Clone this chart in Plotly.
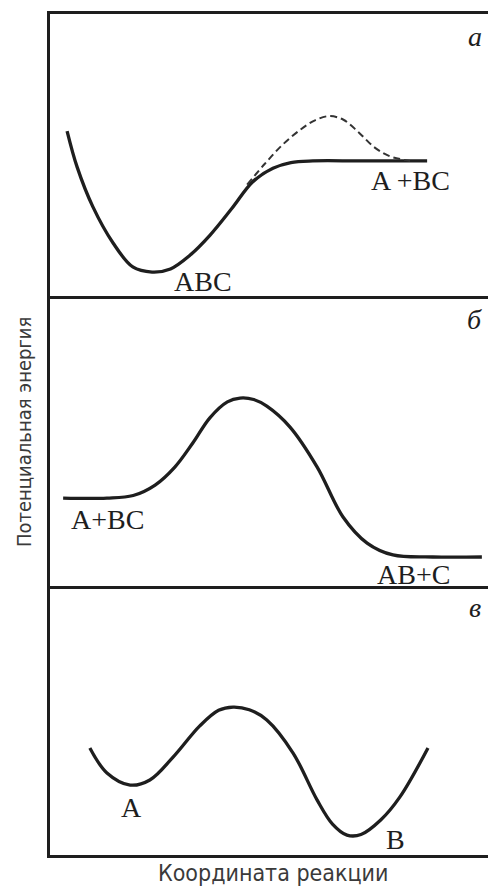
import plotly.graph_objects as go

# Panel a: bound ABC molecule dissociating into A + BC
a_x = [3.9, 6.2, 9.8, 14.4, 18.9, 23.3, 27.5, 32.0, 36.5, 41.5, 46.3, 50.9, 55.0, 60.0, 70.8, 86.1]
a_y = [58.5, 45.7, 31.6, 18.8, 10.3, 8.5, 9.6, 14.5, 21.5, 31.0, 40.5, 45.3, 47.3, 47.9, 47.9, 47.9]
a_dash_x = [45.0, 49.0, 53.0, 57.1, 60.5, 63.8, 67.0, 70.5, 74.0, 77.5, 82.2]
a_dash_y = [39.5, 46.8, 53.5, 58.9, 62.3, 63.8, 62.5, 58.0, 52.8, 49.6, 47.9]

# Panel б: A + BC -> AB + C over a barrier
b_x = [3.0, 13.0, 19.0, 24.0, 28.5, 32.6, 36.5, 40.5, 43.4, 46.5, 49.5, 54.8, 61.0, 66.9, 72.4, 78.3, 87.4, 98.6]
b_y = [30.3, 30.3, 31.2, 34.8, 41.0, 49.3, 58.0, 63.5, 64.8, 64.3, 62.0, 54.8, 41.0, 23.8, 14.8, 10.7, 10.0, 10.0]

# Panel в: two minima A and B
c_x = [9.1, 13.0, 18.3, 22.8, 28.1, 34.2, 38.5, 41.8, 45.5, 49.5, 55.5, 61.0, 64.5, 67.8, 71.0, 75.5, 79.9, 86.3]
c_y = [39.8, 30.5, 26.0, 27.9, 36.4, 48.0, 53.8, 55.0, 54.0, 50.2, 37.9, 20.4, 11.5, 7.4, 7.6, 13.0, 21.6, 39.8]

panel_letters = ["a", "б", "в"]
state_labels = [
    ("A +BC", 82.2, 41.1, 1), ("ABC", 34.9, 5.0, 1),
    ("A+BC", 13.2, 22.8, 2), ("AB+C", 82.9, 3.8, 2),
    ("A", 18.7, 17.5, 3), ("B", 78.8, 5.6, 3),
]
x_title = "Координата реакции"
y_title = "Потенциальная энергия"

INK = "#1e1e1e"
fig = go.Figure()
line = dict(color=INK, width=3.3, shape="spline", smoothing=1.0)
fig.add_trace(go.Scatter(x=a_x, y=a_y, mode="lines", line=line, xaxis="x", yaxis="y"))
fig.add_trace(go.Scatter(x=a_dash_x, y=a_dash_y, mode="lines",
                         line=dict(color="#333", width=2, dash="7px,4px", shape="spline", smoothing=1.0),
                         xaxis="x", yaxis="y"))
fig.add_trace(go.Scatter(x=b_x, y=b_y, mode="lines", line=line, xaxis="x2", yaxis="y2"))
fig.add_trace(go.Scatter(x=c_x, y=c_y, mode="lines", line=line, xaxis="x3", yaxis="y3"))

H = 890.0
doms = [(1 - 296 / H, 1 - 14 / H), (1 - 586 / H, 1 - 296 / H), (1 - 855 / H, 1 - 586 / H)]
xd = [50 / 488.0, 1.0]
ax_common = dict(range=[0, 100], showgrid=False, zeroline=False, showticklabels=False,
                 ticks="", showline=True, linecolor=INK, linewidth=2.5, fixedrange=True)
layout = dict(width=488, height=890, margin=dict(l=0, r=0, t=0, b=0),
              paper_bgcolor="white", plot_bgcolor="white", showlegend=False)
for i, (d0, d1) in enumerate(doms):
    sfx = "" if i == 0 else str(i + 1)
    layout["xaxis" + sfx] = dict(ax_common, domain=xd, anchor="y" + sfx, mirror=(i == 0))
    layout["yaxis" + sfx] = dict(ax_common, domain=[d0, d1], anchor="x" + sfx, mirror=False)
fig.update_layout(**layout)

serif = "Liberation Serif"
for txt, x, y, p in state_labels:
    sfx = "" if p == 1 else str(p)
    fig.add_annotation(x=x, y=y, xref="x" + sfx, yref="y" + sfx, text=txt, showarrow=False,
                       xanchor="center", yanchor="middle",
                       font=dict(family=serif, size=28, color=INK))
for i, letter in enumerate(panel_letters):
    sfx = "" if i == 0 else str(i + 1)
    fig.add_annotation(x=97.0, y=92.0, xref="x" + sfx, yref="y" + sfx, text="<i>" + letter + "</i>",
                       showarrow=False, xanchor="center", yanchor="middle",
                       font=dict(family=serif, size=28, color=INK))

cond = "DejaVu Sans Condensed"
fig.add_annotation(x=273 / 488.0, y=1 - 873 / H, xref="paper", yref="paper", text=x_title,
                   showarrow=False, xanchor="center", yanchor="middle",
                   font=dict(family=cond, size=23, color="#3a3a3a"))
fig.add_annotation(x=24 / 488.0, y=1 - 432 / H, xref="paper", yref="paper", text=y_title,
                   textangle=-90, showarrow=False, xanchor="center", yanchor="middle",
                   font=dict(family=cond, size=20, color="#3a3a3a"))

fig.write_html("out.html")
